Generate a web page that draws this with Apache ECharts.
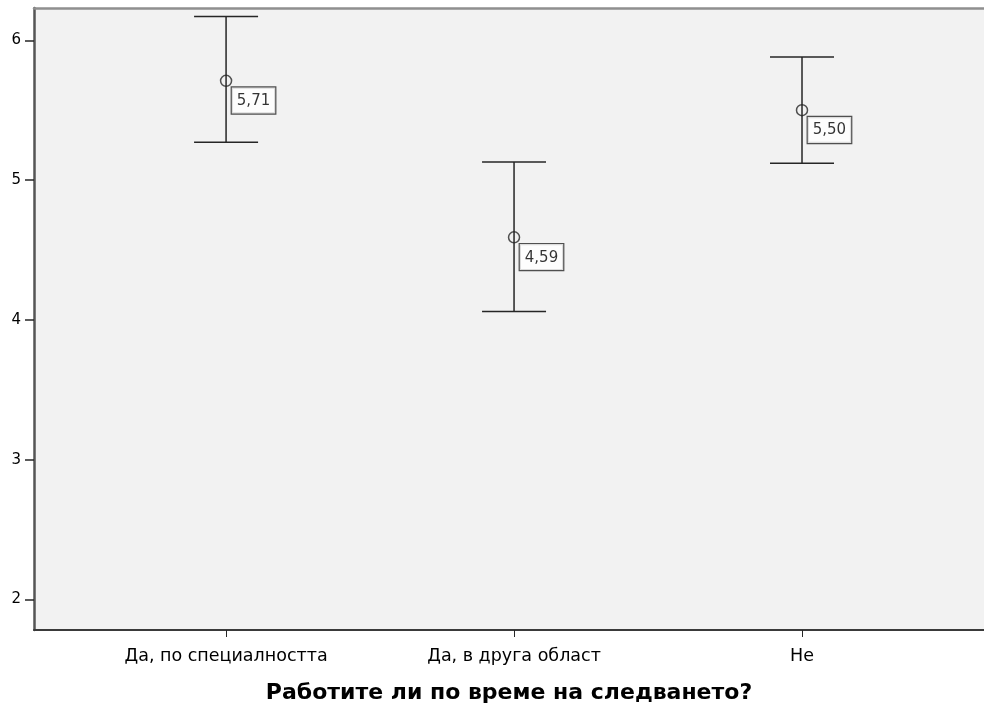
<!DOCTYPE html>
<html>
<head>
<meta charset="utf-8">
<script src="https://cdn.jsdelivr.net/npm/echarts@6/dist/echarts.min.js"></script>
<style>
  html, body { margin: 0; padding: 0; background: #fff; }
  #chart { width: 984px; height: 710px; }
</style>
</head>
<body>
<div id="chart"></div>
<script>
const categories = ['Да, по специалността', 'Да, в друга област', 'Не']
const means = [5.71, 4.59, 5.50]
const lower = [5.27, 4.06, 5.12]
const upper = [6.17, 5.13, 5.88]
const yTicks = [2, 3, 4, 5, 6]
const xTicks = [0, 1, 2]

const font = '"DejaVu Sans", Arial, sans-serif'
const ink = '#262626'

const barData = categories.map((c, i) => [i, lower[i], upper[i]])
const meanData = categories.map((c, i) => [i, means[i]])

const xMin = -0.667
const xMax = 2.632

const chart = echarts.init(document.getElementById('chart'))

chart.setOption({
  animation: false,
  grid: {
    left: 34, top: 8, right: 0, bottom: 80,
    show: true,
    backgroundColor: '#f2f2f2',
    borderWidth: 0,
  },
  xAxis: [
    {
      type: 'value',
      min: xMin,
      max: xMax,
      splitLine: { show: false },
      axisLine: { show: true, onZero: false, lineStyle: { color: '#3a3a3a', width: 2 } },
      axisTick: { show: true, customValues: xTicks, length: 7, lineStyle: { color: ink } },
      axisLabel: {
        customValues: xTicks,
        formatter: v => categories[v],
        color: '#000',
        fontFamily: font,
        fontSize: 17.5,
        margin: 17,
      },
      name: 'Работите ли по време на следването?',
      nameLocation: 'middle',
      nameGap: 52,
      nameTextStyle: { color: '#000', fontFamily: font, fontSize: 22, fontWeight: 'bold' },
    },
    {
      // top frame line only
      type: 'value',
      position: 'top',
      min: xMin,
      max: xMax,
      splitLine: { show: false },
      axisLine: { show: true, onZero: false, lineStyle: { color: '#8f8f8f', width: 2.5 } },
      axisTick: { show: false },
      axisLabel: { show: false },
    },
  ],
  yAxis: {
    type: 'value',
    min: 1.781,
    max: 6.231,
    splitLine: { show: false },
    axisLine: { show: true, onZero: false, lineStyle: { color: '#555', width: 2.5 } },
    axisTick: { show: true, customValues: yTicks, length: 9, lineStyle: { color: ink, width: 1.5 } },
    axisLabel: {
      customValues: yTicks,
      color: '#000',
      fontFamily: font,
      fontSize: 15,
      margin: 13,
    },
  },
  series: [
    {
      type: 'custom',
      data: barData,
      renderItem: (params, api) => {
        const lo = api.coord([api.value(0), api.value(1)])
        const hi = api.coord([api.value(0), api.value(2)])
        const half = 32
        const style = { stroke: ink, lineWidth: 1.5 }
        return {
          type: 'group',
          children: [
            { type: 'line', shape: { x1: hi[0], y1: hi[1], x2: lo[0], y2: lo[1] }, style },
            { type: 'line', shape: { x1: hi[0] - half, y1: hi[1], x2: hi[0] + half, y2: hi[1] }, style },
            { type: 'line', shape: { x1: lo[0] - half, y1: lo[1], x2: lo[0] + half, y2: lo[1] }, style },
          ],
        }
      },
      z: 2,
    },
    {
      type: 'scatter',
      data: meanData,
      symbol: 'circle',
      symbolSize: 11,
      itemStyle: { color: 'rgba(0,0,0,0)', borderColor: ink, borderWidth: 1.5 },
      label: {
        show: true,
        position: [12, 13],
        align: 'left',
        verticalAlign: 'top',
        formatter: p => p.value[1].toFixed(2).replace('.', ','),
        color: '#000',
        fontFamily: font,
        fontSize: 15,
        backgroundColor: '#fff',
        borderColor: ink,
        borderWidth: 1.2,
        padding: [6, 5, 5, 5],
      },
      z: 3,
    },
  ],
})
</script>
</body>
</html>
